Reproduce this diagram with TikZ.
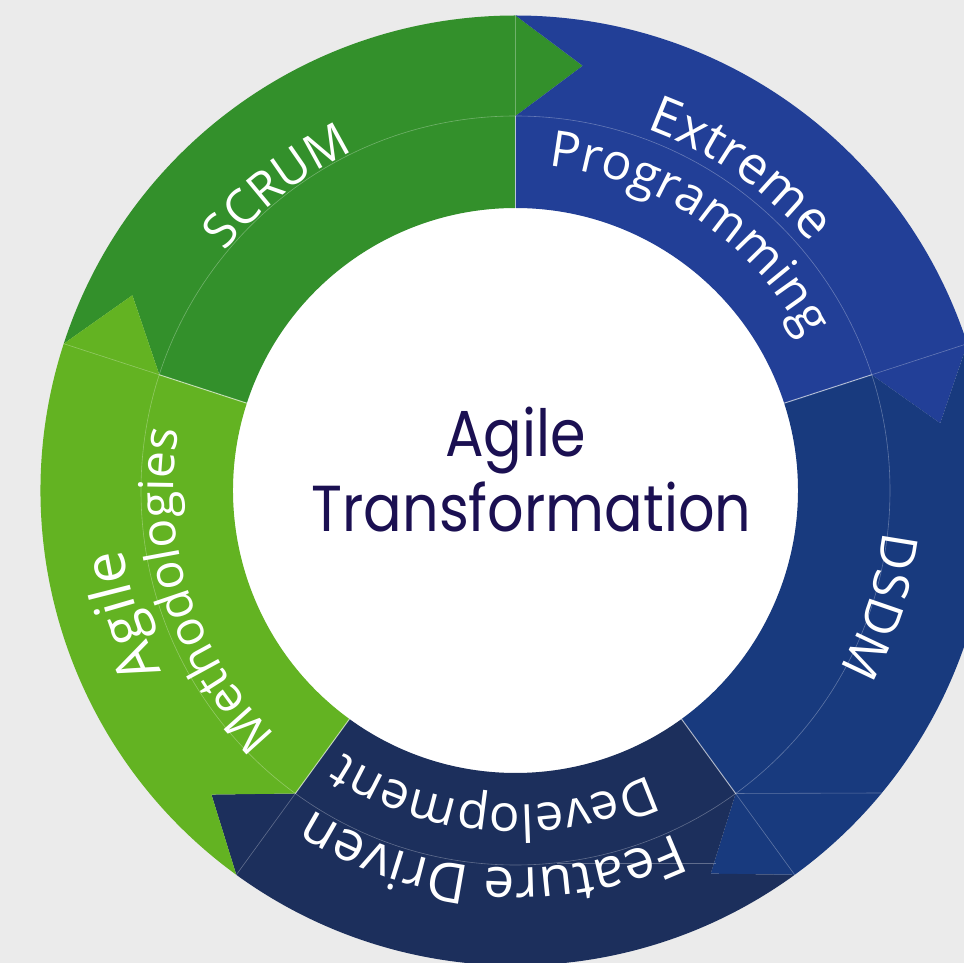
\documentclass[tikz,border=0pt]{standalone}
\usepackage{fontspec}
\usetikzlibrary{decorations.text}
\newfontfamily\ringfont{Open Sans}
\newfontfamily\titlefont[FakeStretch=0.88]{Poppins}
\newcommand\ringsize[1]{\ringfont\fontsize{#1}{#1}\selectfont}
\definecolor{scrumgreen}{HTML}{33902B}
\definecolor{xpblue}{HTML}{223F97}
\definecolor{dsdmblue}{HTML}{183A7E}
\definecolor{fddnavy}{HTML}{1C2F5C}
\definecolor{agilegreen}{HTML}{63B322}
\definecolor{titleink}{HTML}{1B1052}
\definecolor{backdrop}{HTML}{EBEBEB}

\begin{document}
\begin{tikzpicture}[x=1pt, y=1pt,
    seam/.style={white, line width=0.6pt, opacity=0.3},
    inner seam/.style={white, line width=1pt, opacity=0.6},
    ring label/.style={decorate, decoration={text along path, text align=center, text color=white}},
    title/.style={text=titleink, font=\titlefont\fontsize{65}{68}\selectfont, anchor=base}]
  % page
  \fill[backdrop] (-515.5,-472.5) rectangle (448.5,490.5);
  \useasboundingbox (-515.5,-472.5) rectangle (448.5,490.5);
  \fill[white] (0,0) circle[radius=282.5];
  % ring: start angle / end angle / colour, arrow head at the end
  \foreach \s/\e/\c in {162/90/scrumgreen, 90/18/xpblue, 18/-54/dsdmblue,
                        -54/-126/fddnavy, 234/162/agilegreen}
    \fill[\c] (\s:282.5) -- (\s:374.5) -- ({\s-9}:430) -- (\s:475)
      arc[start angle=\s, end angle=\e, radius=475]
      -- ({\e-9}:430) -- (\e:374.5) -- (\e:282.5)
      arc[start angle=\e, end angle=\s, radius=282.5] -- cycle;
  % seams
  \draw[seam] (0,0) circle[radius=374.5];
  \foreach \a in {90,18,-54,-126,162} {
    \draw[seam] (\a:374.5) -- (\a:475);
    \draw[inner seam] (\a:282.5) -- (\a:374.5);
  }
  \draw[seam] (-54:374.5) -- (366,-302.5);
  \draw[seam] (41.5,-372.5) -- (200.5,-372.5);
  % labels
  \path[ring label, decoration={text={|\ringsize{48}|SCRUM}}]
    (173:376) arc[start angle=173, end angle=83, radius=376];
  \path[ring label, decoration={text={|\ringsize{52}|Extreme}}]
    (100:385) arc[start angle=100, end angle=10, radius=385];
  \path[ring label, decoration={text={|\ringsize{50}|Programming}}]
    (106:326) arc[start angle=106, end angle=6, radius=326];
  \path[ring label, decoration={text={|\ringsize{50}|DSDM}}]
    (27.4:370) arc[start angle=27.4, end angle=-62.6, radius=370];
  \path[ring label, decoration={text={|\ringsize{55}|Feature Driven}}]
    (-43.7:378) arc[start angle=-43.7, end angle=-143.7, radius=378];
  \path[ring label, decoration={text={|\ringsize{51}|Development}}]
    (-44:314) arc[start angle=-44, end angle=-144, radius=314];
  \path[ring label, decoration={text={|\ringsize{57}|Agile}}]
    (242.8:397) arc[start angle=242.8, end angle=152.8, radius=397];
  \path[ring label, decoration={text={|\ringsize{48}|Methodologies}}]
    (247.7:342) arc[start angle=247.7, end angle=147.7, radius=342];
  % centre
  \node[title] (agile) at (0,33.5) {Agile};
  \node[title] (transformation) at (16,-41.5) {Transformation};
\end{tikzpicture}
\end{document}
